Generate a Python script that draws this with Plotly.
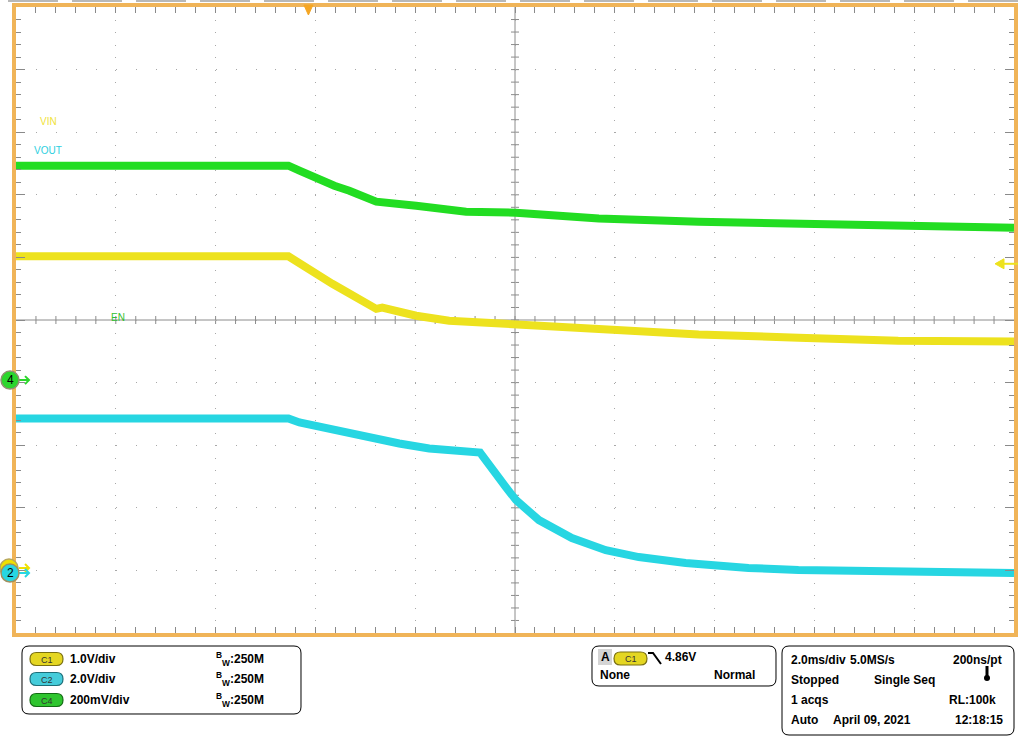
import plotly.graph_objects as go

# ---------------- data (read from the scope screen) ----------------
# time in ms, 2 ms/div, trigger at t = 0
T_RANGE = [-5.86, 14.14]

# C1 : VIN, 1.0 V/div
vin_t = [-5.86, -0.40, 0.48, 1.36, 1.48, 2.16, 2.82, 3.48, 4.16, 4.82, 5.82, 7.82, 9.82, 11.82, 14.14]
vin_v = [4.98, 4.98, 4.54, 4.14, 4.16, 4.03, 3.95, 3.92, 3.90, 3.87, 3.81, 3.73, 3.68, 3.63, 3.62]

# C2 : VOUT, 2.0 V/div
vout_t = [-5.86, -0.40, -0.18, 0.82, 1.82, 2.42, 3.02, 3.44, 3.96, 4.16, 4.62, 5.28, 5.96, 6.62, 7.56,
          8.82, 9.82, 11.82, 14.14]
vout_v = [4.94, 4.94, 4.81, 4.46, 4.14, 3.98, 3.89, 3.85, 2.74, 2.33, 1.69, 1.12, 0.73, 0.51, 0.32,
          0.16, 0.10, 0.03, 0.0]

# C4 : EN, 200 mV/div
en_t = [-5.86, -0.40, -0.18, 0.16, 0.52, 0.82, 1.36, 2.16, 3.16, 4.16, 5.82, 7.82, 9.82, 11.82, 14.14]
en_v = [0.685, 0.685, 0.669, 0.643, 0.621, 0.605, 0.570, 0.557, 0.538, 0.535, 0.516, 0.506, 0.500,
        0.494, 0.487]

channel_names = ["C1", "C2", "C4"]
channel_scales = ["1.0V/div", "2.0V/div", "200mV/div"]
channel_bw = ["250M", "250M", "250M"]
trigger_level = 4.86

# ---------------- geometry / style ----------------
W, H = 1023, 738
L, R, T, B = 16, 1014, 7, 633
PW, PH = R - L, B - T

YEL = "#EDE21E"
CYA = "#27D6E2"
GRN = "#22DD22"
ORANGE = "#F0B458"
FONT = "Liberation Sans, Arial, sans-serif"

def X(px):
    return (px - L) / PW

def Y(py):
    return (B - py) / PH

def rrect(x0, y0, x1, y1, r):
    pts = [
        ("M", [(x0 + r, y0)]), ("L", [(x1 - r, y0)]), ("Q", [(x1, y0), (x1, y0 + r)]),
        ("L", [(x1, y1 - r)]), ("Q", [(x1, y1), (x1 - r, y1)]), ("L", [(x0 + r, y1)]),
        ("Q", [(x0, y1), (x0, y1 - r)]), ("L", [(x0, y0 + r)]), ("Q", [(x0, y0), (x0 + r, y0)]),
    ]
    s = ""
    for cmd, ps in pts:
        s += cmd + " " + " ".join(f"{X(a):.5f},{Y(b):.5f}" for a, b in ps) + " "
    return s + "Z"

# channel display (ground position in divisions, V/div)
C1_GND, C1_S = 1.038, 1.0
C2_GND, C2_S = 0.958, 2.0
C4_GND, C4_S = 4.04, 0.2

def yrange(g, s):
    return [-g * s, (10 - g) * s]

fig = go.Figure()
fig.add_trace(go.Scatter(x=[], y=[], xaxis="x", yaxis="y", showlegend=False))
fig.add_trace(go.Scatter(x=vout_t, y=vout_v, yaxis="y3", mode="lines",
                         line=dict(color=CYA, width=8), hoverinfo="skip", showlegend=False))
fig.add_trace(go.Scatter(x=vin_t, y=vin_v, yaxis="y2", mode="lines",
                         line=dict(color=YEL, width=8), hoverinfo="skip", showlegend=False))
fig.add_trace(go.Scatter(x=en_t, y=en_v, yaxis="y4", mode="lines",
                         line=dict(color=GRN, width=8), hoverinfo="skip", showlegend=False))

TICKC = "#8a8a8a"
GRIDC = "#a8a8a8"
fig.update_layout(
    width=W, height=H,
    margin=dict(l=L, r=W - R, t=T, b=H - B, pad=0),
    paper_bgcolor="white", plot_bgcolor="white",
    xaxis=dict(range=T_RANGE, tick0=T_RANGE[0], dtick=2, showticklabels=False,
               showgrid=True, gridcolor=GRIDC, gridwidth=1, griddash=f"1px,{PH/50-1:.2f}px",
               ticks="inside", ticklen=6, tickcolor=TICKC, mirror="ticks", zeroline=False,
               showline=False, fixedrange=True,
               minor=dict(tick0=T_RANGE[0], dtick=0.4, ticks="inside", ticklen=6,
                          tickcolor=TICKC, showgrid=False)),
    yaxis=dict(range=[0, 10], tick0=0, dtick=1, showticklabels=False,
               showgrid=True, gridcolor=GRIDC, gridwidth=1, griddash=f"1px,{PW/50-1:.2f}px",
               ticks="inside", ticklen=9, tickcolor=TICKC, mirror="ticks", zeroline=False,
               showline=False, fixedrange=True,
               minor=dict(tick0=0, dtick=0.2, ticks="inside", ticklen=5,
                          tickcolor=TICKC, showgrid=False)),
    yaxis2=dict(range=yrange(C1_GND, C1_S), overlaying="y", visible=False),
    yaxis3=dict(range=yrange(C2_GND, C2_S), overlaying="y", visible=False),
    yaxis4=dict(range=yrange(C4_GND, C4_S), overlaying="y", visible=False),
)

shapes = []
# center crosshair
xc = (T_RANGE[0] + T_RANGE[1]) / 2
shapes.append(dict(type="line", xref="x", yref="paper", x0=xc, x1=xc, y0=0, y1=1,
                   line=dict(color="#8c8c8c", width=1), layer="below"))
shapes.append(dict(type="line", xref="paper", yref="y", x0=0, x1=1, y0=5, y1=5,
                   line=dict(color="#8c8c8c", width=1), layer="below"))
for k in range(1, 50):
    yy = k * 0.2
    shapes.append(dict(type="line", xref="x", xsizemode="pixel", xanchor=xc, x0=-4, x1=4,
                       yref="y", y0=yy, y1=yy, line=dict(color="#8c8c8c", width=1), layer="below"))
    xx = T_RANGE[0] + k * 0.4
    shapes.append(dict(type="line", yref="y", ysizemode="pixel", yanchor=5, y0=-4, y1=4,
                       xref="x", x0=xx, x1=xx, line=dict(color="#8c8c8c", width=1), layer="below"))

# orange frame
shapes.append(dict(type="rect", xref="paper", yref="paper", x0=X(14), x1=X(1016), y0=Y(5), y1=Y(635),
                   line=dict(color=ORANGE, width=4)))
# gray tabs on top
for k in range(16):
    a = 8 + 64 * k
    shapes.append(dict(type="rect", xref="paper", yref="paper", x0=X(a), x1=X(min(a + 50, 1020)),
                       y0=Y(0), y1=Y(2), fillcolor="#b8b8b8", line=dict(width=0)))

# trigger position marker (top)
shapes.append(dict(type="path", xref="x", xsizemode="pixel", xanchor=0, yref="paper",
                   ysizemode="pixel", yanchor=1, path="M -4.5,2 L 4.5,2 L 0,-8 Z",
                   fillcolor="#F5A623", line=dict(color="#F5A623", width=1)))
# trigger level marker (right)
shapes.append(dict(type="path", xref="paper", xsizemode="pixel", xanchor=1, yref="y2",
                   ysizemode="pixel", yanchor=trigger_level, path="M -10,0 L 4,0",
                   line=dict(color=YEL, width=2)))
shapes.append(dict(type="path", xref="paper", xsizemode="pixel", xanchor=1, yref="y2",
                   ysizemode="pixel", yanchor=trigger_level, path="M -19,0 L -10,-5 L -10,5 Z",
                   fillcolor=YEL, line=dict(color=YEL, width=1)))

# ground markers on left
def gnd_marker(yref, color, ring, dx=-6):
    shapes.append(dict(type="path", xref="paper", xsizemode="pixel", xanchor=0, yref=yref,
                       ysizemode="pixel", yanchor=0, path="M 3,0 L 13,0 M 9,-4 L 13,0 L 9,4",
                       line=dict(color=color, width=2)))
    shapes.append(dict(type="circle", xref="paper", xsizemode="pixel", xanchor=0, yref=yref,
                       ysizemode="pixel", yanchor=0, x0=dx - 9, x1=dx + 9, y0=-9, y1=9,
                       fillcolor=color, line=dict(color=ring, width=1.5)))

gnd_marker("y2", "#F0E000", "#B8A860", dx=-7)
gnd_marker("y3", CYA, "#A09060")
gnd_marker("y4", "#2CD62C", "#909070")

# info boxes
shapes.append(dict(type="path", xref="paper", yref="paper", path=rrect(22, 646, 301, 714, 7),
                   line=dict(color="black", width=1)))
shapes.append(dict(type="path", xref="paper", yref="paper", path=rrect(592, 646, 776, 686, 7),
                   line=dict(color="black", width=1)))
shapes.append(dict(type="path", xref="paper", yref="paper", path=rrect(782, 646, 1014, 735, 7),
                   line=dict(color="black", width=1)))

PILL = {"C1": ("#E4D622", "#7A7010"), "C2": ("#45CCDA", "#1D6E78"), "C4": ("#2FC52F", "#136B13")}

def pill(name, x0, y0, x1, y1):
    f, e = PILL[name]
    shapes.append(dict(type="path", xref="paper", yref="paper",
                       path=rrect(x0, y0, x1, y1, (y1 - y0) / 2), fillcolor=f,
                       line=dict(color=e, width=1.2)))

row_y = [659, 679, 700]
for name, ry in zip(channel_names, row_y):
    pill(name, 30, ry - 6.5, 63, ry + 6.5)
pill("C1", 614, 652, 647, 665)
shapes.append(dict(type="rect", xref="paper", yref="paper", x0=X(598), x1=X(612), y0=Y(649), y1=Y(665),
                   fillcolor="#d4d4d4", line=dict(width=0)))
shapes.append(dict(type="path", xref="paper", yref="paper",
                   path=f"M {X(648)},{Y(653)} L {X(653)},{Y(653)} L {X(661)},{Y(664)}",
                   line=dict(color="black", width=2)))
# thermometer icon
shapes.append(dict(type="line", xref="paper", yref="paper", x0=X(987), x1=X(987), y0=Y(666), y1=Y(677),
                   line=dict(color="black", width=3)))
shapes.append(dict(type="circle", xref="paper", yref="paper", x0=X(984), x1=X(990), y0=Y(675), y1=Y(681),
                   fillcolor="black", line=dict(width=0)))

fig.update_layout(shapes=shapes)

anns = []
def ann(text, px, py, anchor="left", size=12, bold=True, color="black", xref="paper", yref="paper",
        xv=None, yv=None, xshift=0):
    anns.append(dict(text=text, x=X(px) if xv is None else xv, y=Y(py) if yv is None else yv,
                     xref=xref, yref=yref, xanchor=anchor, yanchor="middle", showarrow=False,
                     xshift=xshift,
                     font=dict(family=FONT, size=size, color=color, weight="bold" if bold else "normal")))

# trace labels
ann("VIN", 38, 121, size=10, bold=False, color="#F0E23A")
ann("VOUT", 32, 150, size=10, bold=False, color="#2CCFE0")
ann("EN", 109, 317, size=10, bold=False, color="#2FC02F")

# ground marker numbers
ann("2", 0, 0, anchor="center", size=12, bold=False, xv=0, yv=0, yref="y3", xshift=-6)
ann("4", 0, 0, anchor="center", size=12, bold=False, xv=0, yv=0, yref="y4", xshift=-6)

# box 1
for name, sc, bw, ry in zip(channel_names, channel_scales, channel_bw, row_y):
    ann(name, 46.5, ry + 0.5, anchor="center", size=9, bold=False, color="#333")
    ann(sc, 68, ry)
    ann(f"<sup>B</sup><sub>W</sub>:{bw}", 214, ry)

# box 2
ann("A", 605, 657, anchor="center")
ann("C1", 630.5, 659, anchor="center", size=9, bold=False, color="#333")
ann(f"{trigger_level:.2f}V", 663, 657)
ann("None", 598, 675)
ann("Normal", 757, 675, anchor="right")

# box 3
ann("2.0ms/div", 789, 660)
ann("5.0MS/s", 848, 660)
ann("200ns/pt", 1004, 660, anchor="right")
ann("Stopped", 789, 680)
ann("Single Seq", 872, 680)
ann("1 acqs", 789, 700)
ann("RL:100k", 998, 700, anchor="right")
ann("Auto", 789, 720)
ann("April 09, 2021", 831, 720)
ann("12:18:15", 1005, 720, anchor="right")

fig.update_layout(annotations=anns)

fig.write_html("out.html", config={"displayModeBar": False},
               post_script="document.body.style.margin='0px';document.body.style.overflow='hidden';")
